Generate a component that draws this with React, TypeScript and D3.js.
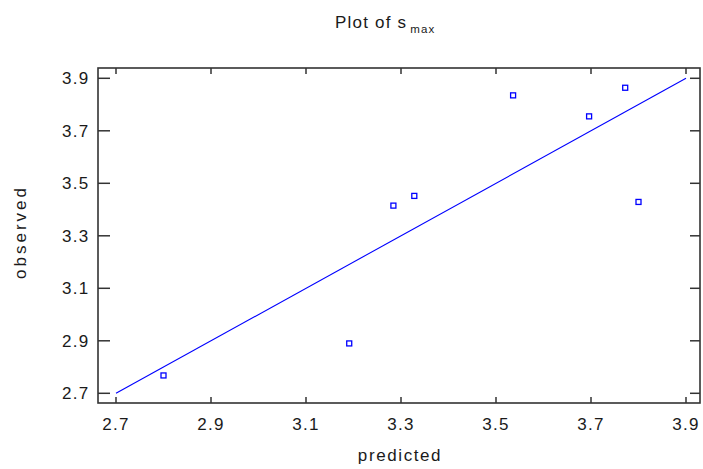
import React from "react";
import * as d3 from "d3";

const predicted = [2.8, 3.191, 3.284, 3.328, 3.536, 3.696, 3.772, 3.8];
const observed = [2.768, 2.89, 3.415, 3.452, 3.835, 3.755, 3.864, 3.429];
const xTicks = [2.7, 2.9, 3.1, 3.3, 3.5, 3.7, 3.9];
const yTicks = [2.7, 2.9, 3.1, 3.3, 3.5, 3.7, 3.9];
const fitLine = [2.7, 3.9];

const W = 703;
const H = 469;
const FL = 98, FR = 700, FT = 68, FB = 403;

export default function App() {
  const x = d3.scaleLinear().domain([2.7, 3.9]).range([116, 686]);
  const y = d3.scaleLinear().domain([2.7, 3.9]).range([393.3, 78.3]);
  const line = d3
    .line<number>()
    .x((d) => x(d))
    .y((d) => y(d));
  const font = "'Liberation Sans', Arial, sans-serif";
  const tc = "#1a1a1a";
  return (
    <svg
      width={W}
      height={H}
      style={{ position: "absolute", left: 0, top: 0, background: "#fff" }}
      fontFamily={font}
    >
      <rect x={0} y={0} width={W} height={H} fill="#fff" />
      <text x={335} y={28} fontSize={17} letterSpacing={1.2} fill={tc}>
        Plot of s
        <tspan fontSize={11.5} dy={5} dx={3} letterSpacing={1.2}>max</tspan>
      </text>
      <path d={line(fitLine) || ""} stroke="#0000ff" strokeWidth={1.1} fill="none" />
      {predicted.map((p, i) => (
        <rect
          key={i}
          x={x(p) - 2.5}
          y={y(observed[i]) - 2.5}
          width={5}
          height={5}
          fill="#fff"
          stroke="#0000ff"
          strokeWidth={1.3}
        />
      ))}
      <rect x={FL} y={FT} width={FR - FL} height={FB - FT} fill="none" stroke="#333" strokeWidth={1.6} />
      {xTicks.map((t) => (
        <g key={"x" + t}>
          <line x1={x(t)} x2={x(t)} y1={FB} y2={FB - 6} stroke="#333" strokeWidth={1.5} />
          <line x1={x(t)} x2={x(t)} y1={FT} y2={FT + 6} stroke="#333" strokeWidth={1.5} />
          <text x={x(t)} y={429.5} fontSize={17} letterSpacing={1.3} textAnchor="middle" fill={tc}>
            {t.toFixed(1)}
          </text>
        </g>
      ))}
      {yTicks.map((t) => (
        <g key={"y" + t}>
          <line x1={FL} x2={FL + 12} y1={y(t)} y2={y(t)} stroke="#333" strokeWidth={1.5} />
          <line x1={FR} x2={FR - 10} y1={y(t)} y2={y(t)} stroke="#333" strokeWidth={1.5} />
          <text x={89.5} y={y(t) + 6} fontSize={17} letterSpacing={1.3} textAnchor="end" fill={tc}>
            {t.toFixed(1)}
          </text>
        </g>
      ))}
      <text x={400} y={461} fontSize={17} letterSpacing={1.6} textAnchor="middle" fill={tc}>
        predicted
      </text>
      <text
        transform={`translate(26,232) rotate(-90)`}
        fontSize={17}
        letterSpacing={3}
        textAnchor="middle"
        fill={tc}
      >
        observed
      </text>
    </svg>
  );
}
